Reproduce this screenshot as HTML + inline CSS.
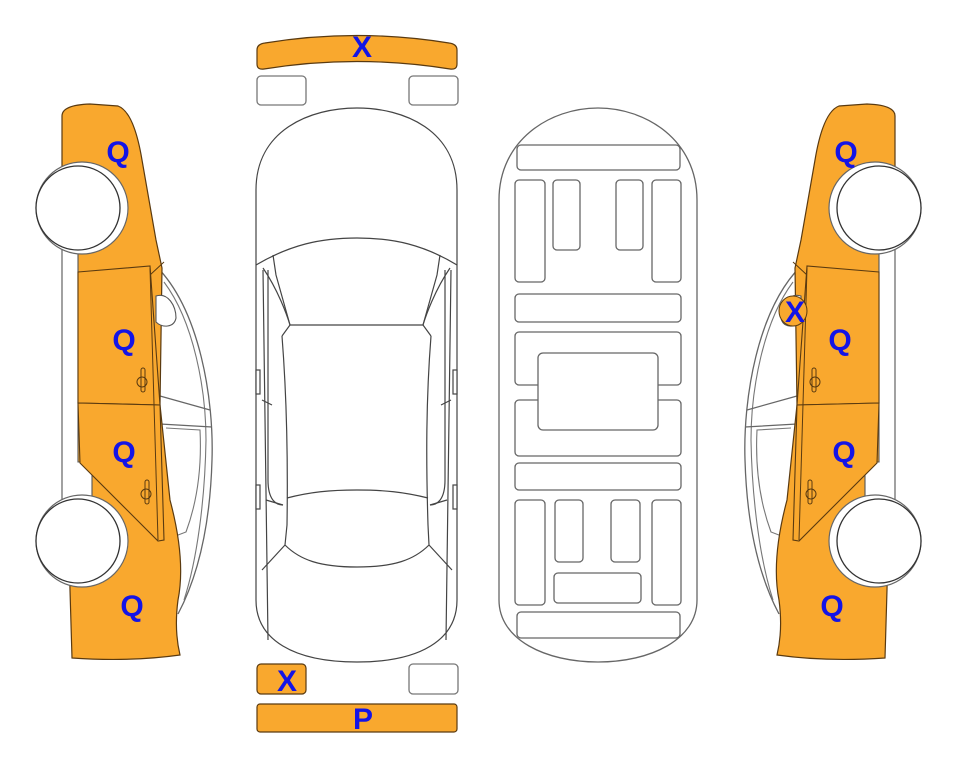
<!DOCTYPE html>
<html><head><meta charset="utf-8"><style>
html,body{margin:0;padding:0;background:#fff;width:963px;height:768px;overflow:hidden}
svg{display:block}
text{font-family:"Liberation Sans",Arial,sans-serif;font-weight:bold;font-size:30px;fill:#1414e6;text-anchor:middle}
</style></head><body>
<svg width="963" height="768" viewBox="0 0 963 768" xmlns="http://www.w3.org/2000/svg">
<defs>
<g id="side">
  <path d="M156,266 C200,310 214,400 212,460 C210,530 196,580 178,614" fill="none" stroke="#666" stroke-width="1.3"/>
  <path d="M164,282 C194,322 206,390 206,440 C205,500 197,560 184,600" fill="none" stroke="#777" stroke-width="1.1"/>
  <path d="M160,396 L210,410 M160,424 L212,427" fill="none" stroke="#666" stroke-width="1.2"/>
  <path d="M166,428 L200,430 C202,470 196,505 186,532 L165,540" fill="none" stroke="#777" stroke-width="1.1"/>
  <path d="M62,116 Q62,105 90,104 L118,106 Q134,112 142,160 L156,240 L162,268 L160,405 L170,500 Q186,560 178,600 Q174,630 180,655 Q130,662 72,658 L70,590 L62,240 Z" fill="#F9A82E" stroke="#5a3a10" stroke-width="1.2"/>
  <path d="M150,275 L164,262" stroke="#5a3a10" stroke-width="1"/>
  <path d="M156,296 C168,292 176,306 176,318 C174,328 162,328 156,322 Z" fill="#fff" stroke="#555" stroke-width="1.1"/>
  <path d="M62,236 L78,236 L78,462 L92,462 L92,505 L62,505 Z" fill="#fff" stroke="#555" stroke-width="1.1"/>
  <path d="M78,272 L150,266 L160,405 L78,403 Z" fill="#F9A82E" stroke="#5a3a10" stroke-width="1.1"/>
  <path d="M78,403 L160,405 L164,540 L158,541 L80,463 Z" fill="#F9A82E" stroke="#5a3a10" stroke-width="1.1"/>
  <path d="M150,268 L158,540" stroke="#5a3a10" stroke-width="1"/>
  <circle cx="142" cy="382" r="5" fill="none" stroke="#5a3a10" stroke-width="1"/>
  <rect x="141" y="368" width="4" height="24" rx="2" fill="none" stroke="#5a3a10" stroke-width="1"/>
  <circle cx="146" cy="494" r="5" fill="none" stroke="#5a3a10" stroke-width="1"/>
  <rect x="145" y="480" width="4" height="24" rx="2" fill="none" stroke="#5a3a10" stroke-width="1"/>
  <circle cx="82" cy="208" r="46" fill="#fff" stroke="#666" stroke-width="1.2"/>
  <circle cx="78" cy="208" r="42" fill="#fff" stroke="#333" stroke-width="1.3"/>
  <circle cx="82" cy="541" r="46" fill="#fff" stroke="#666" stroke-width="1.2"/>
  <circle cx="78" cy="541" r="42" fill="#fff" stroke="#333" stroke-width="1.3"/>
</g>
</defs>

<use href="#side"/>
<use href="#side" transform="translate(957,0) scale(-1,1)"/>
<ellipse cx="793" cy="311" rx="14" ry="15" fill="#F9A82E" stroke="#5a3a10" stroke-width="1"/>

<g fill="none" stroke="#444" stroke-width="1.2">
  <path d="M256,190 C256,130 310,108 357,108 C404,108 457,130 457,190 L457,600 C457,640 420,662 357,662 C294,662 256,640 256,600 Z" fill="#fff"/>
  <path d="M256,265 C290,245 320,238 357,238 C394,238 424,245 457,265"/>
  <path d="M273,255 L276,275 L290,325 L282,336 M440,255 L437,275 L423,325 L431,336"/>
  <path d="M263,268 C278,290 287,315 290,325 M450,268 C435,290 426,315 423,325"/>
  <path d="M290,325 L423,325"/>
  <path d="M282,336 C287,400 288,460 287,525 L285,545 C300,560 320,567 357,567 C394,567 414,560 429,545 L428,525 C426,460 426,400 431,336"/>
  <path d="M287,498 C310,492 330,490 357,490 C384,490 404,492 428,498"/>
  <path d="M268,270 L268,480 C268,500 276,505 283,505 M445,270 L445,480 C445,500 437,505 430,505"/>
  <path d="M263,270 L268,640 M451,270 L446,640"/>
  <path d="M285,545 L262,570 M429,545 L452,570"/>
  <path d="M262,400 L272,405 M451,400 L441,405 M266,500 L283,505 M447,500 L430,505"/>
  <rect x="256" y="370" width="4" height="24" fill="#fff"/>
  <rect x="256" y="485" width="4" height="24" fill="#fff"/>
  <rect x="453" y="370" width="4" height="24" fill="#fff"/>
  <rect x="453" y="485" width="4" height="24" fill="#fff"/>
</g>

<path d="M257,50 Q257,44 265,43 Q357,28 449,43 Q457,44 457,50 L457,64 Q457,70 450,69 Q357,54 264,69 Q257,70 257,64 Z" fill="#F9A82E" stroke="#5a3a10" stroke-width="1.2"/>
<rect x="257" y="76" width="49" height="29" rx="4" fill="#fff" stroke="#777" stroke-width="1.3"/>
<rect x="409" y="76" width="49" height="29" rx="4" fill="#fff" stroke="#777" stroke-width="1.3"/>
<rect x="257" y="664" width="49" height="30" rx="4" fill="#F9A82E" stroke="#5a3a10" stroke-width="1.2"/>
<rect x="409" y="664" width="49" height="30" rx="4" fill="#fff" stroke="#777" stroke-width="1.3"/>
<rect x="257" y="704" width="200" height="28" rx="3" fill="#F9A82E" stroke="#5a3a10" stroke-width="1.2"/>

<g fill="#fff" stroke="#666" stroke-width="1.3">
  <path d="M499,200 C499,140 550,108 598,108 C646,108 697,140 697,200 L697,600 C697,640 650,662 598,662 C546,662 499,640 499,600 Z"/>
  <rect x="517" y="145" width="163" height="25" rx="4"/>
  <rect x="515" y="180" width="30" height="102" rx="4"/>
  <rect x="553" y="180" width="27" height="70" rx="4"/>
  <rect x="616" y="180" width="27" height="70" rx="4"/>
  <rect x="652" y="180" width="29" height="102" rx="4"/>
  <rect x="515" y="294" width="166" height="28" rx="4"/>
  <rect x="515" y="332" width="166" height="53" rx="4"/>
  <rect x="515" y="400" width="166" height="56" rx="4"/>
  <rect x="538" y="353" width="120" height="77" rx="5"/>
  <rect x="515" y="463" width="166" height="27" rx="4"/>
  <rect x="515" y="500" width="30" height="105" rx="4"/>
  <rect x="555" y="500" width="28" height="62" rx="4"/>
  <rect x="611" y="500" width="29" height="62" rx="4"/>
  <rect x="652" y="500" width="29" height="105" rx="4"/>
  <rect x="554" y="573" width="87" height="30" rx="4"/>
  <rect x="517" y="612" width="163" height="26" rx="4"/>
</g>

<text x="118" y="162">Q</text>
<text x="124" y="350">Q</text>
<text x="124" y="462">Q</text>
<text x="132" y="616">Q</text>
<text x="846" y="162">Q</text>
<text x="840" y="350">Q</text>
<text x="844" y="462">Q</text>
<text x="832" y="616">Q</text>
<text x="795" y="322">X</text>
<text x="362" y="57">X</text>
<text x="287" y="691">X</text>
<text x="363" y="729">P</text>
</svg>
</body></html>
